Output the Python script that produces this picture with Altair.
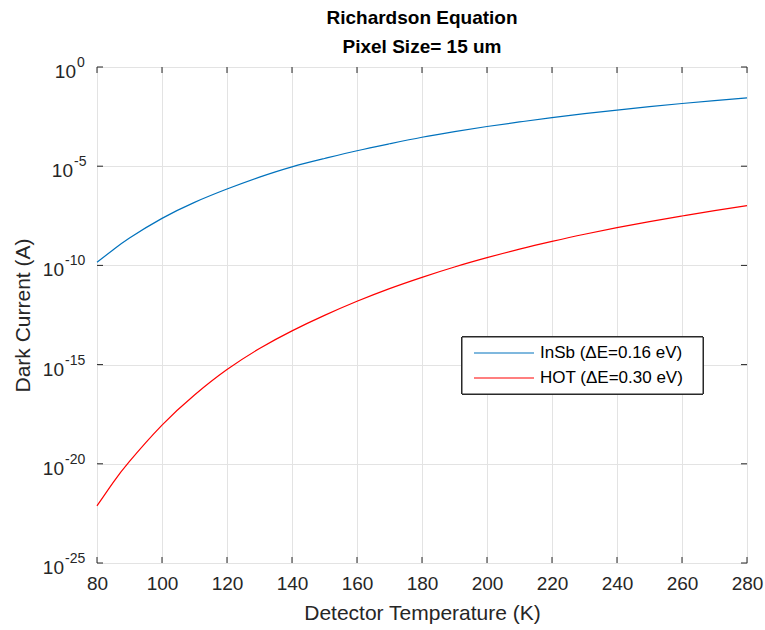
import altair as alt
import pandas as pd

# Detector temperature (K)
temps = [80, 85, 90, 100, 110, 120, 130, 140, 150, 160, 170, 180,
         190, 200, 210, 220, 230, 240, 250, 260, 270, 280]

# Dark current (A) for each material
insb_current = [1.45e-10, 6.17e-10, 2.40e-9, 2.34e-8, 1.51e-7, 7.08e-7, 2.82e-6, 9.33e-6,
                2.45e-5, 6.03e-5, 1.35e-4, 2.88e-4, 5.50e-4, 1.00e-3, 1.70e-3,
                2.82e-3, 4.47e-3, 6.76e-3, 1.00e-2, 1.45e-2, 2.04e-2, 2.75e-2]
hot_current = [7.59e-23, 1.17e-21, 1.32e-20, 8.91e-19, 2.95e-17, 5.62e-16, 6.46e-15, 5.01e-14,
               3.02e-13, 1.55e-12, 6.76e-12, 2.51e-11, 8.32e-11, 2.45e-10, 6.61e-10,
               1.62e-9, 3.72e-9, 7.94e-9, 1.62e-8, 3.09e-8, 5.75e-8, 1.02e-7]

series_names = ["InSb (\u0394E=0.16 eV)", "HOT (\u0394E=0.30 eV)"]
series_colors = ["#0072BD", "#FF0000"]

x_ticks = [80, 100, 120, 140, 160, 180, 200, 220, 240, 260, 280]
y_exponents = ["0", "-5", "-10", "-15", "-20", "-25"]
y_ticks = [1.0, 1e-5, 1e-10, 1e-15, 1e-20, 1e-25]

W, H = 650, 496
FONT = "Liberation Sans"
INK = "#262626"
GRID = "#e3e3e3"

curves = pd.DataFrame({
    "T": temps * 2,
    "I": insb_current + hot_current,
    "series": [series_names[0]] * len(temps) + [series_names[1]] * len(temps),
})
xt = pd.DataFrame({"t": x_ticks})
yt = pd.DataFrame({"v": y_ticks, "e": y_exponents})

xscale = alt.Scale(domain=[80, 280], nice=False, zero=False)
yscale = alt.Scale(type="log", domain=[1e-25, 1], nice=False)

x_axis = alt.Axis(values=x_ticks, title="Detector Temperature (K)",
                  grid=True, ticks=False, domain=False, labelFlush=False,
                  labelFontSize=19, labelColor=INK, labelPadding=11, labelFont=FONT,
                  titleFontSize=21, titleFontWeight="normal", titleColor=INK,
                  titlePadding=9, titleFont=FONT, gridColor=GRID)
y_axis = alt.Axis(values=y_ticks, title="Dark Current (A)", grid=True,
                  ticks=False, domain=False, labels=False,
                  titleFontSize=21, titleFontWeight="normal", titleColor=INK,
                  titlePadding=64, titleFont=FONT, gridColor=GRID)

lines = alt.Chart(curves).mark_line(strokeWidth=1.2, interpolate="natural").encode(
    x=alt.X("T:Q", scale=xscale, axis=x_axis),
    y=alt.Y("I:Q", scale=yscale, axis=y_axis),
    color=alt.Color("series:N",
                    scale=alt.Scale(domain=series_names, range=series_colors),
                    legend=None),
)

def tick_layer(data, **enc):
    return alt.Chart(data).mark_rule(color=INK, strokeWidth=1).encode(**enc)

ticks_bottom = tick_layer(xt, x=alt.X("t:Q", scale=xscale, axis=x_axis),
                          y=alt.value(H), y2=alt.value(H - 6))
ticks_top = tick_layer(xt, x=alt.X("t:Q", scale=xscale, axis=x_axis),
                       y=alt.value(0), y2=alt.value(6))
ticks_left = tick_layer(yt, y=alt.Y("v:Q", scale=yscale, axis=y_axis),
                        x=alt.value(0), x2=alt.value(6))
ticks_right = tick_layer(yt, y=alt.Y("v:Q", scale=yscale, axis=y_axis),
                         x=alt.value(W - 6), x2=alt.value(W))

# Y tick labels: "10" with a raised exponent, grouped by exponent length
label_layers = []
for nchar, bx in [(1, -21), (2, -24), (3, -33)]:
    grp = alt.Chart(yt).transform_filter(f"length(datum.e) == {nchar}")
    label_layers.append(
        grp.mark_text(align="right", baseline="middle", fontSize=19, font=FONT,
                      color=INK, dy=5).encode(
            x=alt.value(bx), y=alt.Y("v:Q", scale=yscale, axis=y_axis),
            text=alt.value("10"))
    )
    label_layers.append(
        grp.mark_text(align="left", baseline="middle", fontSize=14, font=FONT,
                      color=INK, dy=-4).encode(
            x=alt.value(bx + 1), y=alt.Y("v:Q", scale=yscale, axis=y_axis),
            text="e:N")
    )

# Legend box with line samples and labels
LX, LY, LW, LH = 365, 270, 241, 57
legend_layers = [
    alt.Chart(yt).mark_rect(fill="#ffffff", stroke=INK, strokeWidth=1).encode(
        x=alt.value(LX), x2=alt.value(LX + LW), y=alt.value(LY), y2=alt.value(LY + LH))
]
for i, (name, col) in enumerate(zip(series_names, series_colors)):
    row_y = LY + 16 + 25 * i
    entry = pd.DataFrame({"label": [name]})
    legend_layers.append(
        alt.Chart(entry).mark_rule(color=col, strokeWidth=1.2).encode(
            x=alt.value(LX + 12), x2=alt.value(LX + 72), y=alt.value(row_y))
    )
    legend_layers.append(
        alt.Chart(entry).mark_text(align="left", baseline="middle", fontSize=17,
                                   font=FONT, color="#000000").encode(
            x=alt.value(LX + 78), y=alt.value(row_y), text="label:N")
    )

chart = alt.layer(
    lines, ticks_bottom, ticks_top, ticks_left, ticks_right,
    *label_layers, *legend_layers
).properties(
    width=W, height=H,
    title=alt.TitleParams(["Richardson Equation", "Pixel Size= 15 um"],
                          fontSize=19, fontWeight="bold", font=FONT, color="#000000",
                          anchor="middle", offset=-1, lineHeight=29),
    padding={"left": 97, "top": 67, "right": 18, "bottom": 67},
    autosize=alt.AutoSizeParams(type="none"),
).configure_view(stroke=INK, strokeWidth=1).configure(background="#ffffff")

chart.save("out.html", embed_options={"renderer": "svg", "actions": False})
